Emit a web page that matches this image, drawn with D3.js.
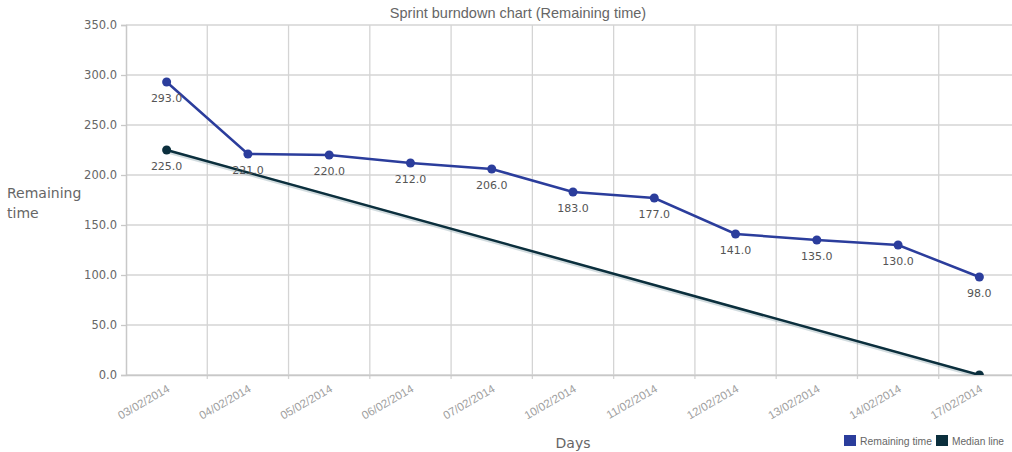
<!DOCTYPE html>
<html>
<head>
<meta charset="utf-8">
<script src="https://cdn.jsdelivr.net/npm/d3@7"></script>
<style>
  html, body { margin: 0; padding: 0; background: #fff; }
  svg { display: block; }
</style>
</head>
<body>
<svg id="chart" width="1012" height="452"></svg>
<script>
// Sprint days (x categories)
const days = ["03/02/2014", "04/02/2014", "05/02/2014", "06/02/2014", "07/02/2014",
              "10/02/2014", "11/02/2014", "12/02/2014", "13/02/2014", "14/02/2014", "17/02/2014"];
// Remaining time per day
const remaining = [293, 221, 220, 212, 206, 183, 177, 141, 135, 130, 98];
// Median (ideal) line: start and end of the sprint
const medianDays = ["03/02/2014", "17/02/2014"];
const medianValues = [225, 0];
// Y axis ticks
const yTicks = [0, 50, 100, 150, 200, 250, 300, 350];

const blue = "#2b3d9c";
const dark = "#0b2f3d";

const svg = d3.select("#chart");
const plotLeft = 126, plotRight = 1020, plotTop = 25, plotBottom = 375;

const x = d3.scaleBand().domain(days).range([plotLeft, plotRight]).paddingInner(0).paddingOuter(0);
const y = d3.scaleLinear().domain([0, 350]).range([plotBottom, plotTop]);
const cx = d => x(d) + x.bandwidth() / 2;

// Clip for plotted series
svg.append("defs").append("clipPath").attr("id", "plotClip")
  .append("rect").attr("x", plotLeft).attr("y", plotTop - 8)
  .attr("width", plotRight - plotLeft).attr("height", plotBottom - plotTop + 8);

// Grid
const grid = svg.append("g");
grid.selectAll("line.h").data(yTicks).join("line")
  .attr("x1", plotLeft).attr("x2", plotRight)
  .attr("y1", d => y(d)).attr("y2", d => y(d))
  .attr("stroke", "#d4d4d4").attr("stroke-width", 1.3);
grid.selectAll("line.v").data(days.slice(1)).join("line")
  .attr("x1", d => x(d)).attr("x2", d => x(d))
  .attr("y1", plotTop).attr("y2", plotBottom + 4)
  .attr("stroke", "#d4d4d4").attr("stroke-width", 1.3);

// Y axis
const yAxis = svg.append("g").attr("transform", `translate(${plotLeft},0)`)
  .call(d3.axisLeft(y).tickValues(yTicks).tickFormat(d3.format(".1f")).tickSize(5).tickPadding(4));
yAxis.select(".domain").attr("stroke", "#c8c8c8").attr("stroke-width", 1.5);
yAxis.selectAll(".tick line").attr("stroke", "#c8c8c8").attr("stroke-width", 1.3);
yAxis.selectAll(".tick text").attr("fill", "#666").attr("font-family", "DejaVu Sans, sans-serif").attr("font-size", 11.5);

// X axis
const xAxis = svg.append("g").attr("transform", `translate(0,${plotBottom})`)
  .call(d3.axisBottom(x).tickSize(0).tickPadding(0));
xAxis.select(".domain").attr("stroke", "#c8c8c8").attr("stroke-width", 1.3);
xAxis.selectAll(".tick text")
  .attr("fill", "#a0a0a0")
  .attr("font-family", "Liberation Sans, Arial, sans-serif")
  .attr("font-size", 11.5)
  .attr("text-anchor", "end")
  .attr("dy", null)
  .attr("transform", "translate(4,16) rotate(-30)");

// Series lines
const plot = svg.append("g").attr("clip-path", "url(#plotClip)");
const line = d3.line().x(d => cx(d[0])).y(d => y(d[1]));

const medianPts = medianDays.map((d, i) => [d, medianValues[i]]);
plot.append("path").datum(medianPts)
  .attr("d", line).attr("fill", "none")
  .attr("stroke", "#7f9aa3").attr("stroke-opacity", 0.35).attr("stroke-width", 4)
  .attr("transform", "translate(1,1.5)");
plot.append("path").datum(medianPts)
  .attr("d", line).attr("fill", "none").attr("stroke", dark).attr("stroke-width", 2.5);
plot.selectAll("circle.m").data(medianPts).join("circle")
  .attr("cx", d => cx(d[0])).attr("cy", d => y(d[1])).attr("r", 4.5).attr("fill", dark);

const remPts = days.map((d, i) => [d, remaining[i]]);
plot.append("path").datum(remPts)
  .attr("d", line).attr("fill", "none").attr("stroke", blue).attr("stroke-width", 2.5);
plot.selectAll("circle.r").data(remPts).join("circle")
  .attr("cx", d => cx(d[0])).attr("cy", d => y(d[1])).attr("r", 4.5).attr("fill", blue);

// Value labels
const labels = svg.append("g").attr("font-family", "DejaVu Sans, sans-serif")
  .attr("font-size", 11).attr("fill", "#555").attr("text-anchor", "middle");
labels.selectAll("text.r").data(remPts).join("text")
  .attr("x", d => cx(d[0])).attr("y", d => y(d[1]) + 20).text(d => d3.format(".1f")(d[1]));
labels.append("text")
  .attr("x", cx(medianPts[0][0])).attr("y", y(medianPts[0][1]) + 20)
  .text(d3.format(".1f")(medianPts[0][1]));

// Title
svg.append("text").attr("x", 518).attr("y", 18).attr("text-anchor", "middle")
  .attr("font-family", "Liberation Sans, Arial, sans-serif").attr("font-size", 14.5)
  .attr("fill", "#666").text("Sprint burndown chart (Remaining time)");

// Axis titles
const yTitle = svg.append("text").attr("font-family", "DejaVu Sans, sans-serif")
  .attr("font-size", 14).attr("fill", "#666");
yTitle.append("tspan").attr("x", 7).attr("y", 198).text("Remaining");
yTitle.append("tspan").attr("x", 7).attr("y", 218).text("time");

svg.append("text").attr("x", 573).attr("y", 448).attr("text-anchor", "middle")
  .attr("font-family", "DejaVu Sans, sans-serif").attr("font-size", 14)
  .attr("fill", "#666").text("Days");

// Legend
const legendItems = [["Remaining time", blue, 844, 72], ["Median line", dark, 936, 52]];
const legend = svg.append("g");
legendItems.forEach(([name, color, lx, w]) => {
  legend.append("rect").attr("x", lx).attr("y", 435).attr("width", 12).attr("height", 11).attr("fill", color);
  legend.append("text").attr("x", lx + 16).attr("y", 445)
    .attr("font-family", "Liberation Sans, Arial, sans-serif").attr("font-size", 10.5)
    .attr("textLength", w).attr("lengthAdjust", "spacingAndGlyphs")
    .attr("fill", "#666").text(name);
});
</script>
</body>
</html>
